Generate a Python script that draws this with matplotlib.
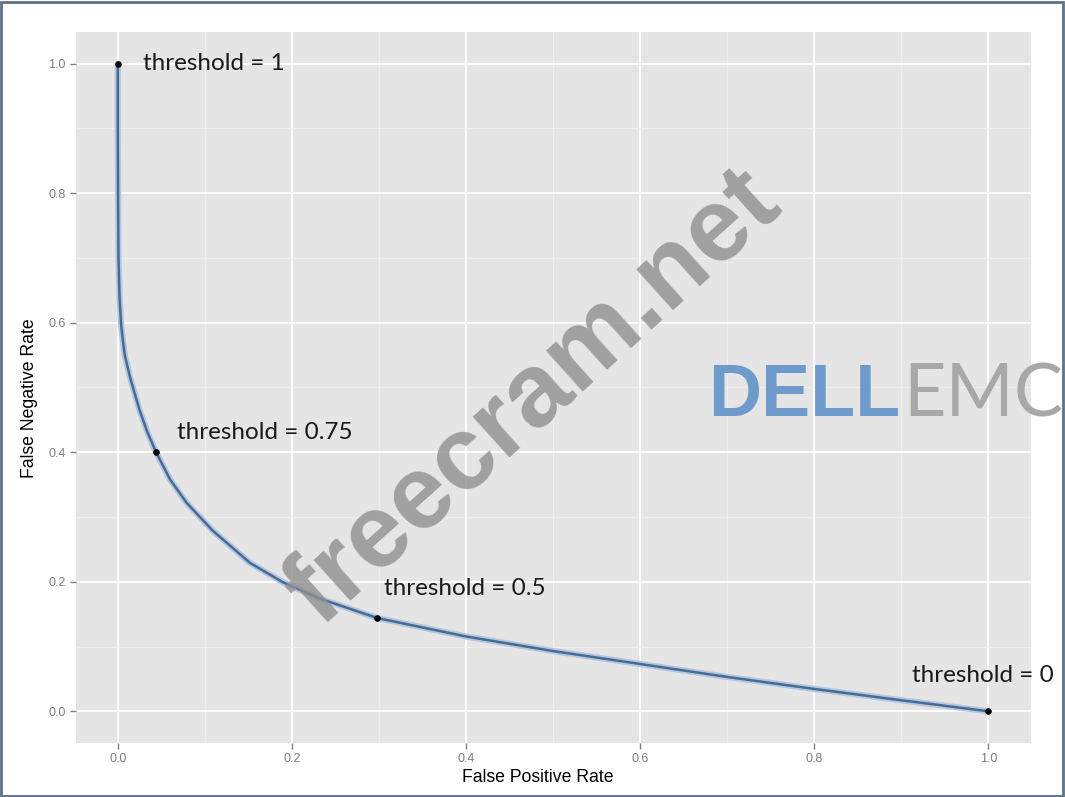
import numpy as np
import matplotlib.pyplot as plt
from matplotlib.patches import Rectangle

# curve (false positive rate, false negative rate)
fpr = [0.0, 0.0, 0.0003, 0.0008, 0.002, 0.004, 0.008, 0.014, 0.025, 0.034, 0.044, 0.060,
       0.079, 0.109, 0.152, 0.190, 0.232, 0.298, 0.40, 0.50, 0.60, 0.70, 0.80, 0.90, 1.0]
fnr = [1.0, 0.9, 0.8, 0.7, 0.64, 0.594, 0.55, 0.516, 0.465, 0.431, 0.4, 0.358,
       0.322, 0.279, 0.229, 0.199, 0.174, 0.144, 0.1155, 0.093, 0.073, 0.053, 0.0345, 0.017, 0.0]

pt_x = [0.0, 0.044, 0.298, 1.0]
pt_y = [1.0, 0.4, 0.144, 0.0]
pt_labels = ['threshold = 1', 'threshold = 0.75', 'threshold = 0.5', 'threshold = 0']

fig = plt.figure(figsize=(10.65, 7.97), dpi=100)
ax = fig.add_axes([76/1065, 1-743/797, (1031-76)/1065, (743-32)/797])
ax.set_facecolor('#e5e5e5')
ax.set_xlim(-0.048, 1.049)
ax.set_ylim(-0.049, 1.049)

ticks = [0.0, 0.2, 0.4, 0.6, 0.8, 1.0]
ax.set_xticks(ticks)
ax.set_yticks(ticks)
ax.set_xticks([0.1, 0.3, 0.5, 0.7, 0.9], minor=True)
ax.set_yticks([0.1, 0.3, 0.5, 0.7, 0.9], minor=True)
ax.set_xticklabels(['%.1f' % t for t in ticks], family='Liberation Sans')
ax.set_yticklabels(['%.1f' % t for t in ticks], family='Liberation Sans')
ax.grid(which='major', color='white', linewidth=1.3)
ax.grid(which='minor', color='#f0f0f0', linewidth=0.6)
ax.set_axisbelow(True)
for s in ax.spines.values():
    s.set_visible(False)
ax.tick_params(which='major', length=4, width=1, color='#7f7f7f', labelcolor='#7f7f7f', labelsize=9)
ax.tick_params(which='minor', length=0)

# watermarks (under the curve)
fig.text(534/1065, 1-398/797, 'freecram.net', rotation=42, fontsize=75, fontweight='bold',
         color='#8f8f8f', alpha=0.8, ha='center', va='center', family='Liberation Sans', zorder=1)
fig.text(708/1065, 1-396/797, 'DELL', fontsize=53, fontweight='bold', color='#6e9bcb',
         ha='left', va='center', family='Liberation Sans')
fig.text(903/1065, 1-396/797, 'EMC', fontsize=53, fontweight='normal', color='#a8a8a8',
         ha='left', va='center', family='Lato')

# smooth curve with a light halo
fx = np.array(fpr)
fy = np.array(fnr)
ax.plot(fx, fy, color='#b3c8df', linewidth=4.5, solid_joinstyle='round', solid_capstyle='round', zorder=2)
ax.plot(fx, fy, color='#4a6a96', linewidth=1.8, solid_joinstyle='round', solid_capstyle='round', zorder=3)
ax.scatter(pt_x, pt_y, s=14, color='black', zorder=4)

offsets = [(18, 0), (15, 14.5), (5, 21), (-55, 26)]
for x, y, lab, off in zip(pt_x, pt_y, pt_labels, offsets):
    ax.annotate(lab, (x, y), xytext=off, textcoords='offset points', fontsize=17.5,
                family='Lato', color='#1a1a1a', va='center', ha='left', zorder=5,
                annotation_clip=False)

ax.set_xlabel('False Positive Rate', fontsize=12.7, color='black', family='Liberation Sans')
ax.set_ylabel('False Negative Rate', fontsize=12.7, color='black', family='Liberation Sans')
ax.xaxis.set_label_coords(0.484, -0.037)
ax.yaxis.set_label_coords(-0.040, 0.485)

fig.patches.append(Rectangle((0.001, 0.001), 0.997, 0.997, transform=fig.transFigure,
                             fill=False, edgecolor='#5d7187', linewidth=2))

fig.savefig('out.png', dpi=100)
